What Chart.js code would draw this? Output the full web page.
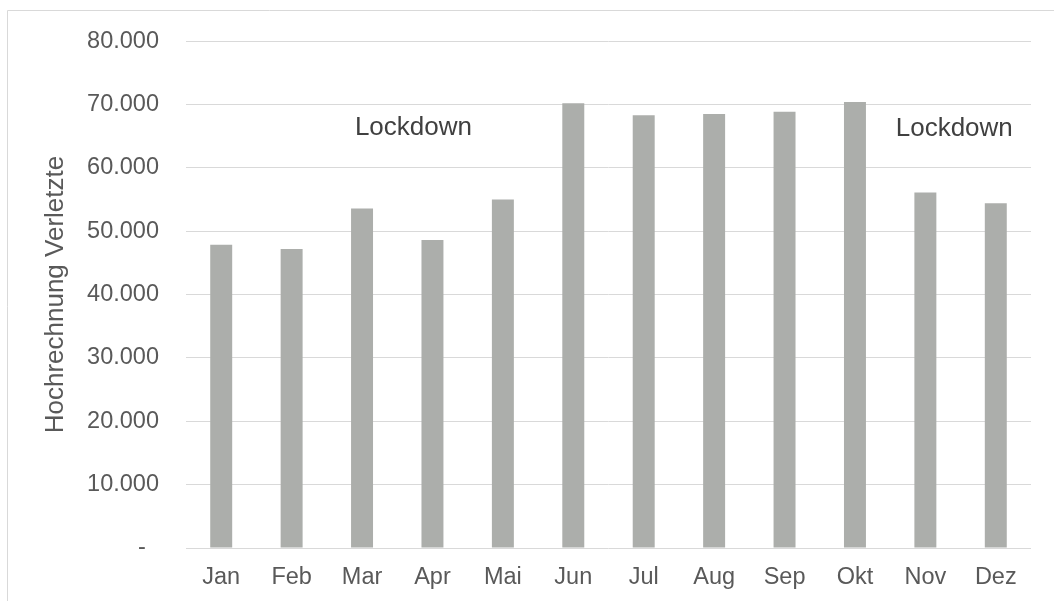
<!DOCTYPE html>
<html lang="de">
<head>
<meta charset="utf-8">
<title>Hochrechnung Verletzte</title>
<script src="https://cdn.jsdelivr.net/npm/chart.js@4"></script>
<style>
  html, body { margin: 0; padding: 0; background: #fff; }
  #wrap { position: relative; width: 1054px; height: 601px; }
</style>
</head>
<body>
<div id="wrap"><canvas id="verletzteChart"></canvas></div>
<script>
// Monate und hochgerechnete Verletzte
const months = ["Jan", "Feb", "Mar", "Apr", "Mai", "Jun", "Jul", "Aug", "Sep", "Okt", "Nov", "Dez"];
const injured = [47850, 47200, 53600, 48600, 55000, 70200, 68300, 68500, 68850, 70400, 56100, 54400];
const yTicks = [0, 10000, 20000, 30000, 40000, 50000, 60000, 70000, 80000];
const notes = ["Lockdown", "Lockdown"];

const fontFamily = "'Liberation Sans', Arial, sans-serif";

// Rahmen oben/links wie im Original (rechts/unten abgeschnitten)
const framePlugin = {
  id: "frame",
  beforeDraw(chart) {
    const ctx = chart.ctx;
    ctx.save();
    ctx.strokeStyle = "#d9d9d9";
    ctx.lineWidth = 1;
    ctx.beginPath();
    ctx.moveTo(7.5, chart.height + 1);
    ctx.lineTo(7.5, 10.5);
    ctx.lineTo(chart.width + 1, 10.5);
    ctx.stroke();
    ctx.restore();
  },
};

// Textfelder "Lockdown"
const notePlugin = {
  id: "notes",
  afterDatasetsDraw(chart) {
    const x = chart.scales.x;
    const y = chart.scales.y;
    const anchors = [[2.73, 66250], [10.41, 66100]];
    const ctx = chart.ctx;
    ctx.save();
    ctx.font = "26px " + fontFamily;
    ctx.fillStyle = "#404040";
    ctx.textAlign = "center";
    ctx.textBaseline = "middle";
    notes.forEach(function (text, i) {
      ctx.fillText(text, x.getPixelForValue(anchors[i][0]), y.getPixelForValue(anchors[i][1]));
    });
    ctx.restore();
  },
};

var ctx = document.getElementById("verletzteChart").getContext("2d");
var myChart = new Chart(ctx, {
  type: "bar",
  data: {
    labels: months,
    datasets: [
      {
        data: injured,
        backgroundColor: "#acaeab",
        borderWidth: 0,
        barPercentage: 0.312,
        categoryPercentage: 1,
      },
    ],
  },
  options: {
    responsive: true,
    maintainAspectRatio: false,
    animation: false,
    events: [],
    layout: { padding: { left: 10, right: 23, top: 39, bottom: 0 } },
    plugins: {
      legend: { display: false },
      tooltip: { enabled: false },
    },
    scales: {
      x: {
        afterFit(scale) {
          scale.height = 53;
        },
        grid: { display: false, drawTicks: false },
        border: { display: false },
        ticks: {
          color: "#595959",
          padding: 15,
          maxRotation: 0,
          font: { family: fontFamily, size: 23.5 },
        },
      },
      y: {
        min: 0,
        max: 80000,
        afterBuildTicks(scale) {
          scale.ticks = yTicks.map(function (v) { return { value: v }; });
        },
        afterFit(scale) {
          scale.width = 176;
        },
        grid: { color: "#d9d9d9", lineWidth: 1, drawTicks: false },
        border: { display: false },
        ticks: {
          color: "#595959",
          padding: 27,
          font: { family: fontFamily, size: 23.5 },
          callback: function (value) {
            if (value === 0) return "-  ";
            return value.toLocaleString("de-DE");
          },
        },
        title: {
          display: true,
          text: "Hochrechnung Verletzte",
          color: "#595959",
          padding: { top: 30, bottom: 0 },
          font: { family: fontFamily, size: 26 },
        },
      },
    },
  },
  plugins: [framePlugin, notePlugin],
});
</script>
</body>
</html>
